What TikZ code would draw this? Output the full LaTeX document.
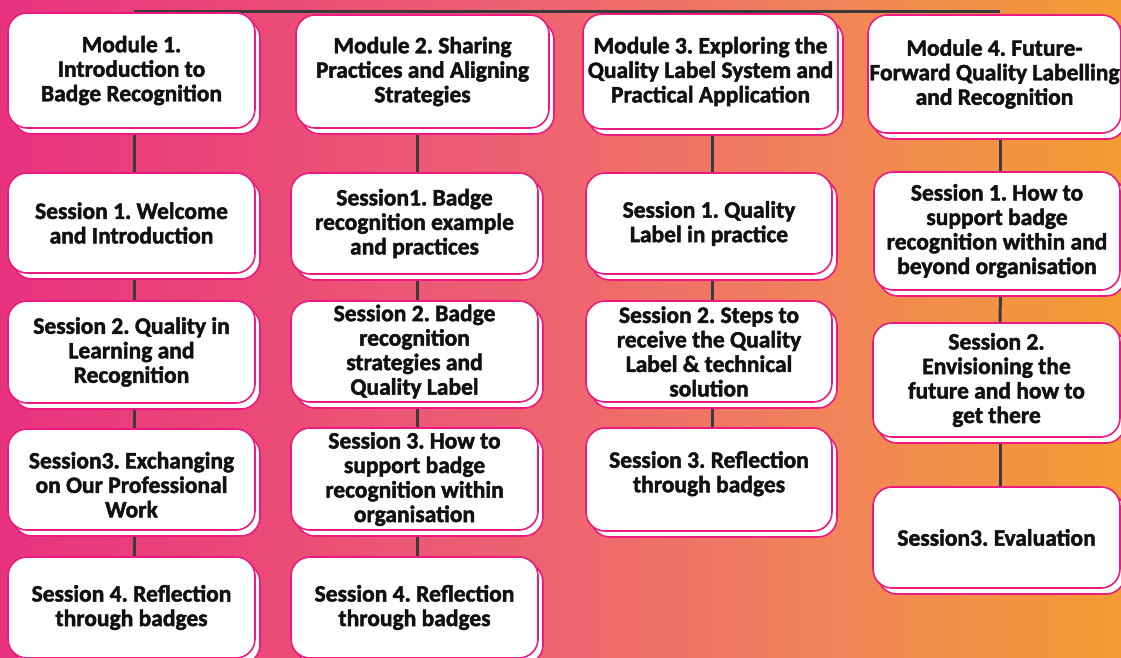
\documentclass[tikz,border=0pt]{standalone}
\usepackage{fontspec}
\setmainfont{Carlito}[BoldFeatures={FakeBold=2}]
\usetikzlibrary{shadows}
\definecolor{bgA}{HTML}{E8327F}
\definecolor{bgB}{HTML}{EE6570}
\definecolor{bgC}{HTML}{F18558}
\definecolor{bgD}{HTML}{F39C33}
\definecolor{pinkc}{HTML}{EC1A80}
\definecolor{linec}{HTML}{3A3A3A}
\definecolor{txtc}{HTML}{111111}
\pgfdeclarehorizontalshading{bgshade}{100bp}{color(0bp)=(bgA); color(25bp)=(bgA); color(50bp)=(bgB); color(62.5bp)=(bgC); color(75bp)=(bgD); color(100bp)=(bgD)}
\pgfdeclarelayer{back}
\pgfsetlayers{back,main}
\newcommand\bx[6]{\node[box, minimum width=#4pt, minimum height=#5pt] (#1) at (#2,#3) {#6};}
\begin{document}
\frenchspacing
\begin{tikzpicture}[x=1pt,y=-1pt,
  box/.style={draw=pinkc, fill=white, line width=1.6pt, rounded corners=19pt,
    copy shadow={shadow xshift=5pt, shadow yshift=-6pt},
    align=center, font=\bfseries\fontsize{23.5}{24.5}\selectfont, text=txtc, inner sep=0pt},
  conn/.style={draw=linec, line width=3pt}]
\useasboundingbox (0,0) rectangle (1121,657);
\clip (0,0) rectangle (1121,657);
% column 1
\bx{m1}{131.5}{70.5}{247}{115}{Module 1.\\Introduction to\\Badge Recognition}
\bx{a1}{131.5}{223}{247}{100}{Session 1. Welcome\\and Introduction}
\bx{a2}{131.5}{352}{247}{102}{Session 2. Quality in\\Learning and\\Recognition}
\bx{a3}{131.5}{479.5}{247}{101}{\mbox{}\\[2.5pt]Session3. Exchanging\\on Our Professional\\Work}
\bx{a4}{131.5}{607.5}{247}{101}{Session 4. Reflection\\through badges}
% column 2
\bx{m2}{422.5}{71.5}{253}{113}{Module 2. Sharing\\Practices and Aligning\\Strategies}
\bx{b1}{414.5}{223.5}{247}{101}{Session1. Badge\\recognition example\\and practices}
\bx{b2}{414.5}{351.5}{247}{101}{Session 2. Badge\\recognition\\strategies and\\Quality Label}
\bx{b3}{414.5}{479}{247}{102}{Session 3. How to\\support badge\\recognition within\\organisation}
\bx{b4}{414.5}{607.5}{247}{101}{Session 4. Reflection\\through badges}
% column 3
\bx{m3}{710.5}{71.5}{255}{115}{Module 3. Exploring the\\Quality Label System and\\Practical Application}
\bx{c1}{709}{223.5}{246}{101}{Session 1. Quality\\Label in practice}
\bx{c2}{709}{351.5}{246}{101}{Session 2. Steps to\\receive the Quality\\Label \& technical\\solution}
\bx{c3}{709}{479.5}{246}{103}{Session 3. Reflection\\through badges\\[-9pt]\mbox{}}
% column 4
\bx{m4}{994.5}{74}{253}{118}{Module 4. Future-\\Forward Quality Labelling\\and Recognition}
\bx{d1}{997}{231}{246}{118}{Session 1. How to\\support badge\\recognition within and\\beyond organisation}
\bx{d2}{996.5}{380}{247}{114}{Session 2.\\Envisioning the\\future and how to\\get there}
\bx{d3}{996.5}{537.5}{247}{101}{Session3. Evaluation}
\coordinate (t1) at (134,11);
\coordinate (t4) at (1000,11);
\begin{pgfonlayer}{back}
\fill[shading=bgshade] (0,0) rectangle (1121,657);
\draw[conn] (t1) -- (t4);
\draw[conn] ([xshift=2.5pt]a1.north) -- ([xshift=2.5pt]a1.north |- m1.south);
\draw[conn] ([xshift=2.5pt]a2.north) -- ([xshift=2.5pt]a1.south);
\draw[conn] ([xshift=2.5pt]a3.north) -- ([xshift=2.5pt]a2.south);
\draw[conn] ([xshift=2.5pt]a4.north) -- ([xshift=2.5pt]a3.south);
\draw[conn] ([xshift=2.5pt]b1.north) -- ([xshift=2.5pt]b1.north |- m2.south);
\draw[conn] ([xshift=2.5pt]b2.north) -- ([xshift=2.5pt]b1.south);
\draw[conn] ([xshift=2.5pt]b3.north) -- ([xshift=2.5pt]b2.south);
\draw[conn] ([xshift=2.5pt]b4.north) -- ([xshift=2.5pt]b3.south);
\draw[conn] ([xshift=3pt]c1.north) -- ([xshift=3pt]c1.north |- m3.south);
\draw[conn] ([xshift=3pt]c2.north) -- ([xshift=3pt]c1.south);
\draw[conn] ([xshift=3pt]c3.north) -- ([xshift=3pt]c2.south);
\draw[conn] ([xshift=3pt]d1.north) -- ([xshift=3pt]d1.north |- m4.south);
\draw[conn] ([xshift=3.5pt]d2.north) -- ([xshift=3.5pt]d1.south);
\draw[conn] ([xshift=3.5pt]d3.north) -- ([xshift=3.5pt]d2.south);
\end{pgfonlayer}
\end{tikzpicture}
\end{document}
